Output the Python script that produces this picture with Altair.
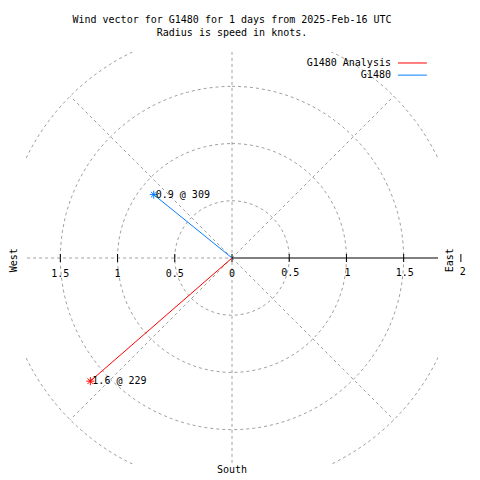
import altair as alt
import numpy as np
import pandas as pd

# ---------------- data ----------------
series = ["G1480 Analysis", "G1480"]
speeds = [1.64, 0.88]          # knots (radius)
directions = [229, 309]        # degrees, clockwise from north
shown_speed = ["1.6", "0.9"]
colors = ["#ff0000", "#0a7dff"]

ring_radii = [0.5, 1.0, 1.5, 2.0]
diag_angles = [45, 135, 225, 315]
left_ticks = [-1.5, -1.0, -0.5, 0.0]
left_tick_labels = ["1.5", "1", "0.5", "0"]
right_ticks = [0.5, 1.0, 1.5, 2.0]
right_tick_labels = ["0.5", "1", "1.5", "2"]
title_lines = ["Wind vector for G1480 for 1 days from 2025-Feb-16 UTC",
               "Radius is speed in knots."]

FONT = "DejaVu Sans Mono"
GRAY = "#a0a0a0"
DASH = [3, 3]

xs = alt.Scale(domain=[-1.8, 1.8], nice=False, zero=False)
ys = alt.Scale(domain=[-1.8, 1.8], nice=False, zero=False)
X = lambda f: alt.X(f, scale=xs, axis=None)
Y = lambda f: alt.Y(f, scale=ys, axis=None)
cscale = alt.Scale(domain=series, range=colors)

# ---------------- derived tables ----------------
vec = pd.DataFrame({"series": series, "speed": speeds, "dir": directions})
rad = np.deg2rad(vec["dir"])
vec["x"] = vec["speed"] * np.sin(rad)
vec["y"] = vec["speed"] * np.cos(rad)
vec["x0"] = 0.0
vec["y0"] = 0.0
vec["label"] = [f"{s} @ {d}" for s, d in zip(shown_speed, directions)]

rows = []
for r in ring_radii:
    for i, t in enumerate(range(0, 361, 3)):
        a = np.deg2rad(t)
        rows.append({"r": r, "i": i, "x": r * np.sin(a), "y": r * np.cos(a)})
rings = pd.DataFrame(rows)

radials = pd.DataFrame(
    [{"x": 0, "y": 0, "x2": 2 * np.sin(np.deg2rad(a)), "y2": 2 * np.cos(np.deg2rad(a))} for a in diag_angles]
    + [{"x": 0, "y": -2, "x2": 0, "y2": 2}, {"x": -2, "y": 0, "x2": 0, "y2": 0}]
)
axis_line = pd.DataFrame([{"x": 0, "y": 0, "x2": 2, "y2": 0}])

ticks = pd.DataFrame({"x": left_ticks + right_ticks, "y": 0.0})
lab_left = pd.DataFrame({"x": left_ticks, "y": 0.0, "t": left_tick_labels})
lab_right = pd.DataFrame({"x": right_ticks[:-1], "y": 0.0, "t": right_tick_labels[:-1]})
lab_two = pd.DataFrame({"x": right_ticks[-1:], "y": 0.0, "t": right_tick_labels[-1:]})

# ---------------- layers ----------------
ring_layer = alt.Chart(rings).mark_line(clip=True, strokeDash=DASH, color=GRAY, strokeWidth=1).encode(
    x=X("x:Q"), y=Y("y:Q"), detail="r:N", order="i:Q")

radial_layer = alt.Chart(radials).mark_rule(clip=True, strokeDash=DASH, color=GRAY, strokeWidth=1).encode(
    x=X("x:Q"), y=Y("y:Q"), x2="x2:Q", y2="y2:Q")

axis_layer = alt.Chart(axis_line).mark_rule(clip=True, color="black", strokeWidth=1).encode(
    x=X("x:Q"), y=Y("y:Q"), x2="x2:Q", y2="y2:Q")

tick_layer = alt.Chart(ticks).mark_point(shape="M0,-1L0,1", filled=False, size=64, color="black",
                                         strokeWidth=1, opacity=1).encode(x=X("x:Q"), y=Y("y:Q"))

txt = dict(font=FONT, fontSize=10, color="black")
left_lab_layer = alt.Chart(lab_left).mark_text(dy=16, baseline="middle", align="center", **txt).encode(
    x=X("x:Q"), y=Y("y:Q"), text="t:N")
right_lab_layer = alt.Chart(lab_right).mark_text(dy=15, dx=1, baseline="middle", align="center", **txt).encode(
    x=X("x:Q"), y=Y("y:Q"), text="t:N")
two_layer = alt.Chart(lab_two).mark_text(dy=14, dx=2, baseline="middle", align="center", **txt).encode(
    x=X("x:Q"), y=Y("y:Q"), text="t:N")

vec_layer = alt.Chart(vec).mark_rule(strokeWidth=1).encode(
    x=X("x0:Q"), y=Y("y0:Q"), x2="x:Q", y2="y:Q",
    color=alt.Color("series:N", scale=cscale, legend=None))
star_layer = alt.Chart(vec).mark_point(
    shape="M-1,0L1,0M0,-1L0,1M-0.7,-0.7L0.7,0.7M-0.7,0.7L0.7,-0.7",
    filled=False, size=64, strokeWidth=1, opacity=1).encode(
    x=X("x:Q"), y=Y("y:Q"), color=alt.Color("series:N", scale=cscale, legend=None))
vec_text = alt.Chart(vec).mark_text(align="left", baseline="middle", dx=2, **txt).encode(
    x=X("x:Q"), y=Y("y:Q"), text="label:N")

# compass labels
side = pd.DataFrame({"t": ["West", "East"], "x": [-1.905, 1.905], "y": [-0.02, -0.02]})
side_layer = alt.Chart(side).mark_text(angle=270, align="center", baseline="middle", **txt).encode(
    x=X("x:Q"), y=Y("y:Q"), text="t:N")
south = pd.DataFrame({"t": ["South"], "x": [0.0], "y": [-1.855]})
south_layer = alt.Chart(south).mark_text(align="center", baseline="middle", **txt).encode(
    x=X("x:Q"), y=Y("y:Q"), text="t:N")

# title
ttl = pd.DataFrame({"t": title_lines, "x": [0.0, 0.0], "y": [2.08, 1.966]})
title_layer = alt.Chart(ttl).mark_text(align="center", baseline="middle", **txt).encode(
    x=X("x:Q"), y=Y("y:Q"), text="t:N")

# legend
leg = pd.DataFrame({"series": series, "x": [1.389, 1.389], "y": [1.704, 1.598],
                    "lx": [1.45, 1.45], "lx2": [1.703, 1.703]})
leg_text = alt.Chart(leg).mark_text(align="right", baseline="middle", **txt).encode(
    x=X("x:Q"), y=Y("y:Q"), text="series:N")
leg_line = alt.Chart(leg).mark_rule(strokeWidth=1).encode(
    x=X("lx:Q"), x2="lx2:Q", y=Y("y:Q"),
    color=alt.Color("series:N", scale=cscale, legend=None))

chart = alt.layer(
    ring_layer, radial_layer, axis_layer, tick_layer,
    left_lab_layer, right_lab_layer, two_layer,
    vec_layer, star_layer, vec_text,
    side_layer, south_layer, title_layer, leg_text, leg_line,
).properties(
    width=412, height=412,
    autosize=alt.AutoSizeParams(type="none"),
    padding={"left": 18, "top": 44, "right": 34, "bottom": 14},
    background="white",
).configure_view(stroke=None)

chart.save("out.html", embed_options={"renderer": "svg", "actions": False})
